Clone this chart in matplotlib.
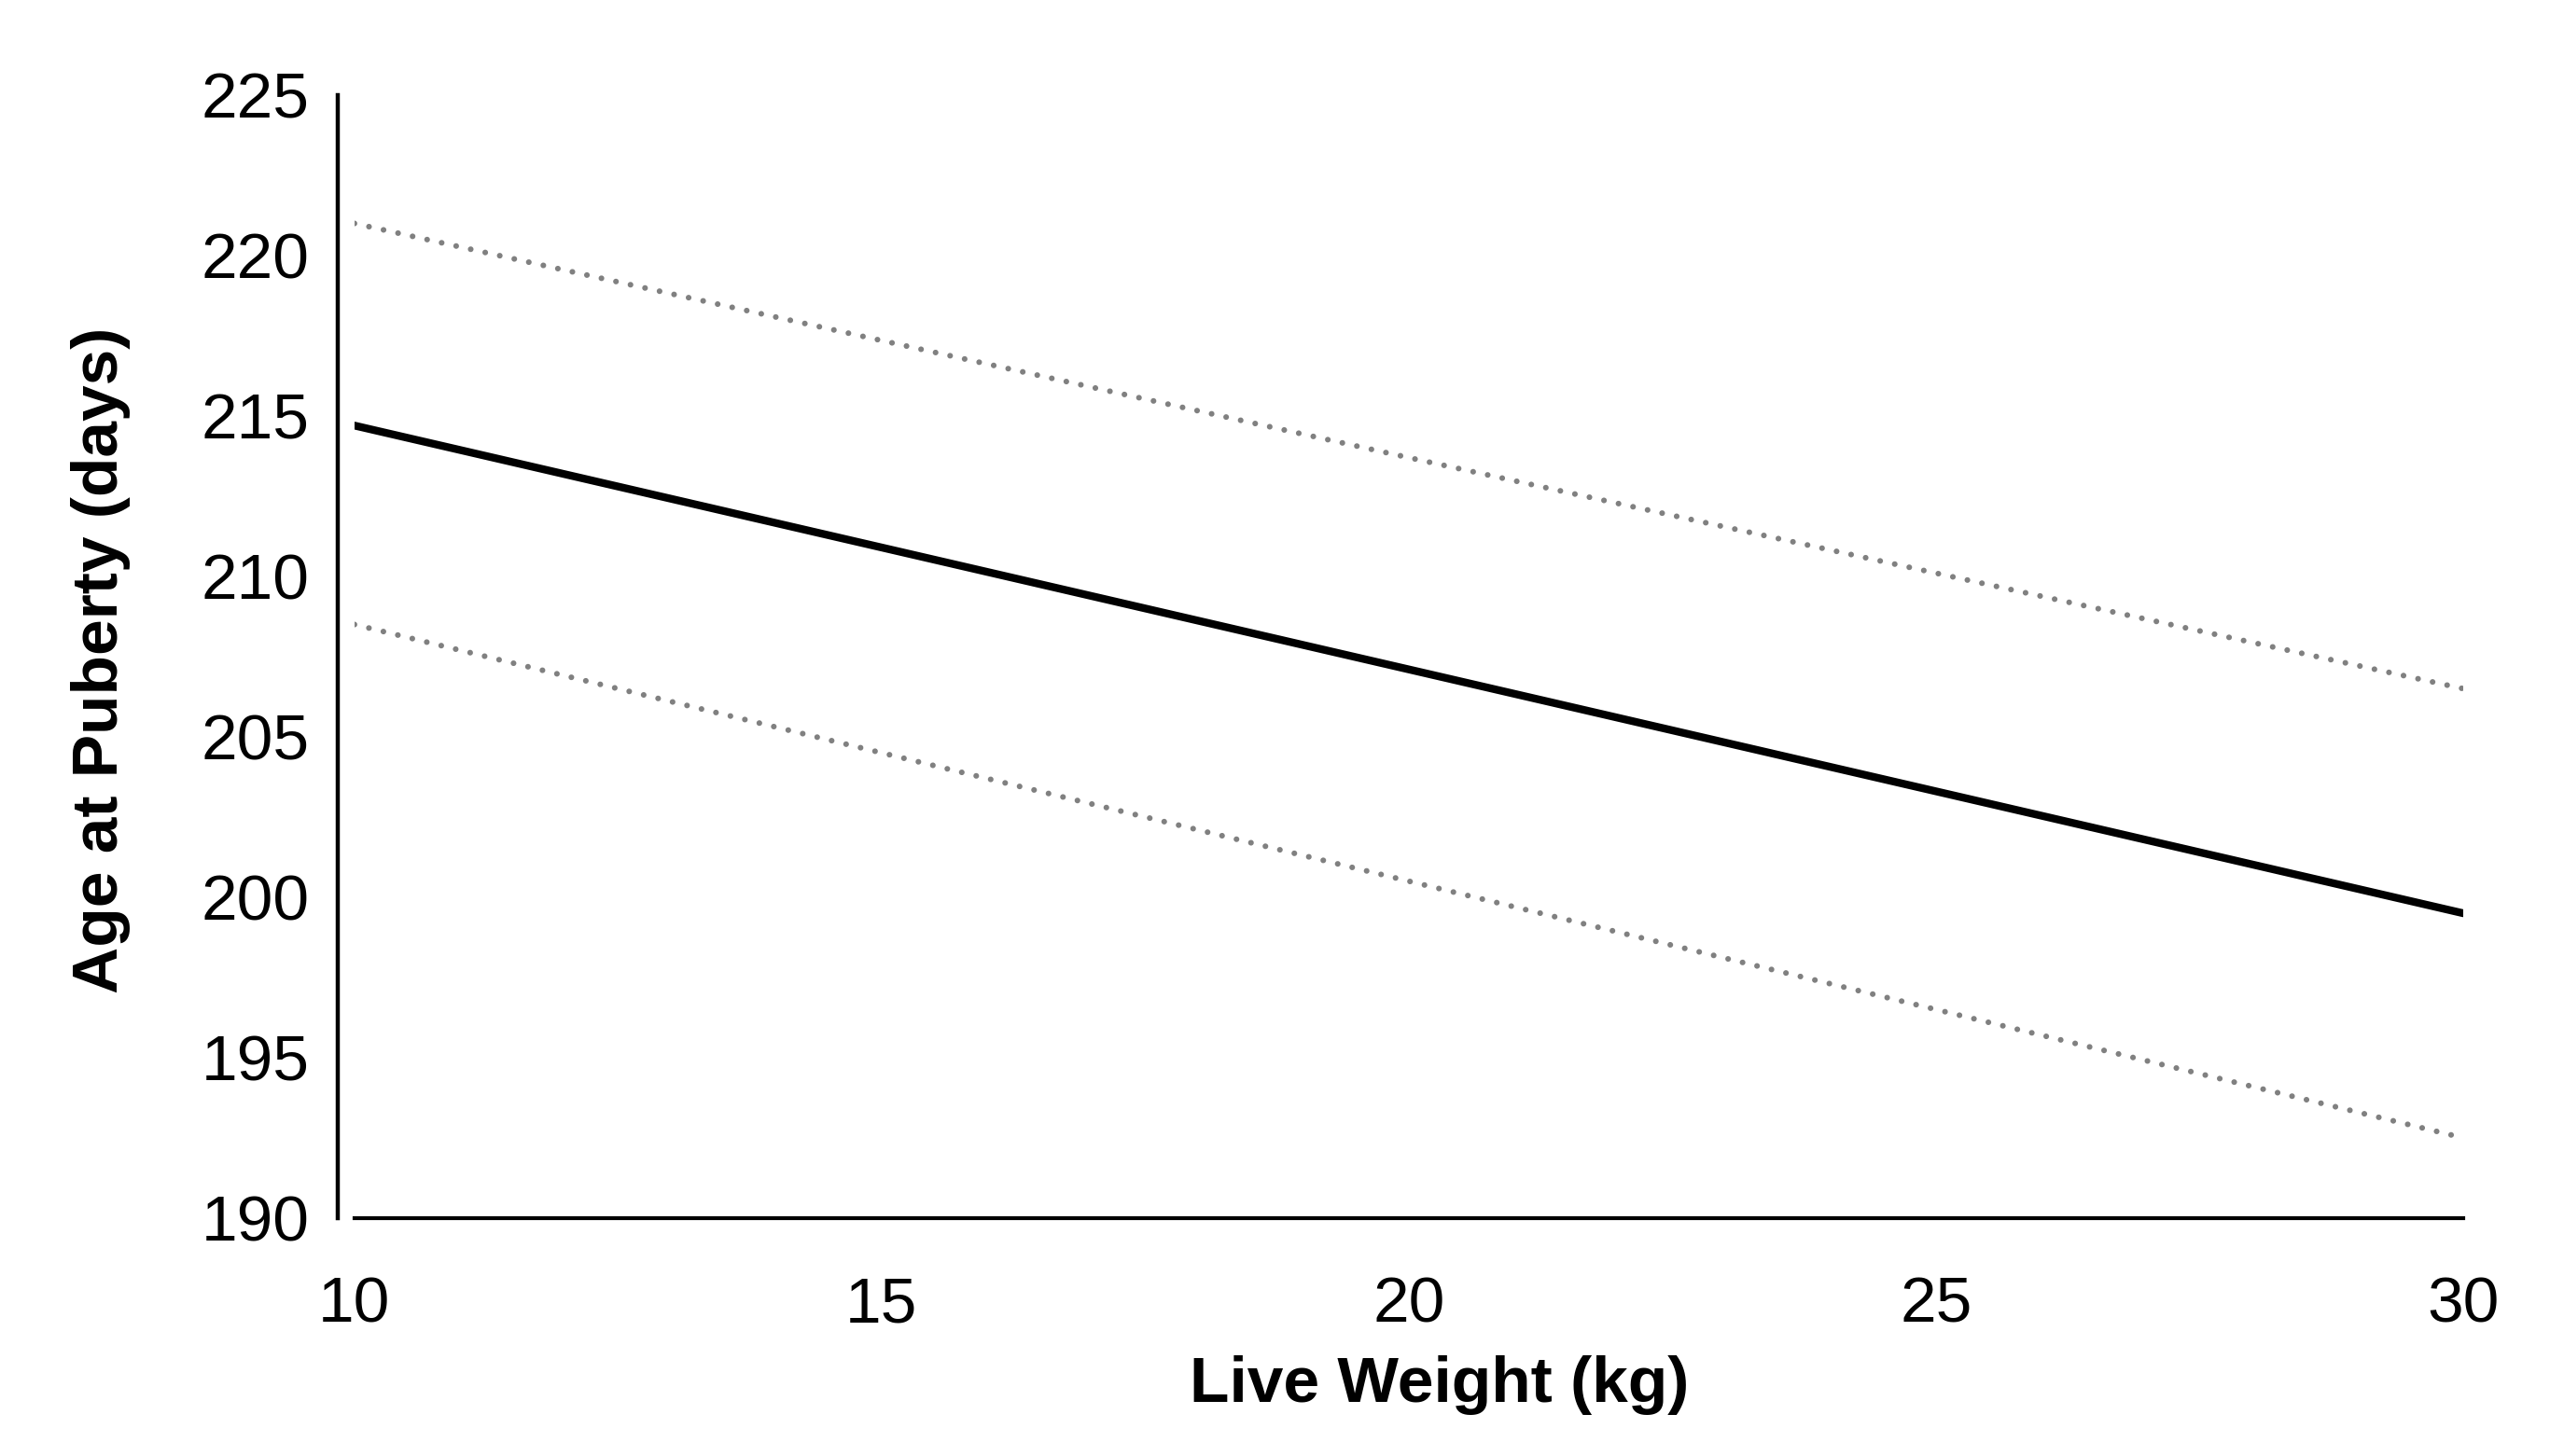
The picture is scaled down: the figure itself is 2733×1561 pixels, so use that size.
import matplotlib
matplotlib.use('Agg')
import matplotlib.pyplot as plt

plt.rcParams['font.family'] = ['Liberation Sans', 'DejaVu Sans']

# values
live_weight = [10, 20, 30]
age_fit = [214.7, 207.1, 199.5]
age_upper = [221.0, 213.7, 206.5]
age_lower = [208.5, 200.5, 192.5]

x_ticks = [10, 15, 20, 25, 30]
y_ticks = [190, 195, 200, 205, 210, 215, 220, 225]

fig = plt.figure(figsize=(13.665, 7.805), dpi=200)
ax = fig.add_axes([0.139, 0.1634, 0.827, 0.7713])

ax.plot(live_weight, age_fit, color='black', linewidth=3.0, solid_capstyle='round')
ax.plot(live_weight, age_upper, color='#808080', linewidth=2.2,
        linestyle=(0, (0.01, 2.6)), dash_capstyle='round')
ax.plot(live_weight, age_lower, color='#808080', linewidth=2.2,
        linestyle=(0, (0.01, 2.6)), dash_capstyle='round')

ax.set_xlim(10, 30)
ax.set_ylim(190, 225)
ax.set_xticks(x_ticks)
ax.set_yticks(y_ticks)

for side in ['top', 'right']:
    ax.spines[side].set_visible(False)
ax.spines['left'].set_linewidth(1.6)
ax.spines['bottom'].set_linewidth(1.5)
ax.spines['left'].set_position(('outward', 6.5))

ax.tick_params(axis='y', length=0, pad=11, labelsize=25)
ax.tick_params(axis='x', length=0, pad=22, labelsize=25)

ax.set_xlabel('Live Weight (kg)', fontsize=25, fontweight='bold', va='center')
ax.xaxis.set_label_coords(0.5146, -0.149)
ax.set_ylabel('Age at Puberty (days)', fontsize=25, fontweight='bold', va='center')
ax.yaxis.set_label_coords(-0.1204, 0.497)

fig.savefig('out.png', dpi=200)
